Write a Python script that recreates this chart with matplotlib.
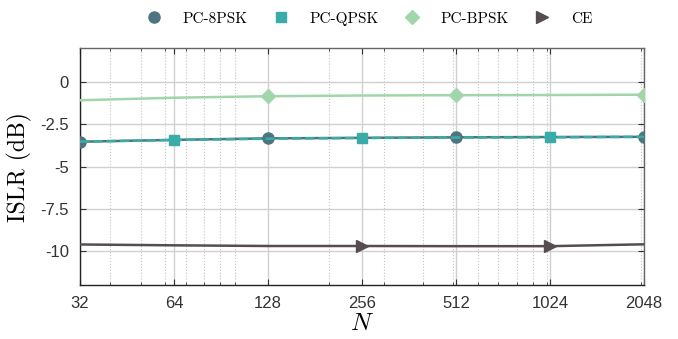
import matplotlib
matplotlib.use('Agg')
import matplotlib.pyplot as plt
import matplotlib.ticker as mticker
import numpy as np

plt.rcParams['mathtext.fontset'] = 'cm'

# data
N = [32, 64, 128, 256, 512, 1024, 2048]
islr_8psk = [-3.53, -3.42, -3.33, -3.30, -3.27, -3.25, -3.24]
islr_qpsk = [-3.52, -3.43, -3.35, -3.31, -3.28, -3.27, -3.24]
islr_bpsk = [-1.08, -0.93, -0.84, -0.80, -0.78, -0.77, -0.75]
islr_ce = [-9.60, -9.65, -9.69, -9.69, -9.70, -9.70, -9.59]

yticks = [0, -2.5, -5, -7.5, -10]
ytick_labels = ['0', '-2.5', '-5', '-7.5', '-10']
xtick_labels = ['32', '64', '128', '256', '512', '1024', '2048']

fig = plt.figure(figsize=(6.78, 3.39), dpi=100)
ax = fig.add_axes([0.118, 0.159, 0.832, 0.699])

ax.plot(N, islr_8psk, '-', color='#4d7580', lw=1.8, marker='o', ms=8,
        markevery=[0, 2, 4, 6], label='PC-8PSK', zorder=3)
ax.plot(N, islr_qpsk, '--', color='#3aaca8', lw=1.8, marker='s', ms=7,
        markevery=[1, 3, 5], label='PC-QPSK', zorder=4)
ax.plot(N, islr_bpsk, '-', color='#a1d6ab', lw=1.8, marker='D', ms=7,
        markevery=[2, 4, 6], label='PC-BPSK', zorder=3)
ax.plot(N, islr_ce, '-', color='#574d51', lw=1.8, marker='>', ms=8,
        markevery=[3, 5], label='CE', zorder=3)

ax.set_xscale('log')
ax.set_xlim(32, 2048)
ax.set_ylim(-12, 2)
ax.xaxis.set_major_locator(mticker.FixedLocator(N))
ax.xaxis.set_major_formatter(mticker.FixedFormatter(xtick_labels))
ax.xaxis.set_minor_locator(mticker.LogLocator(base=10, subs=np.arange(1, 10)))
ax.xaxis.set_minor_formatter(mticker.NullFormatter())
ax.set_yticks(yticks)
ax.set_yticklabels(ytick_labels)

for lab in ax.get_xticklabels() + ax.get_yticklabels():
    lab.set_family('Liberation Sans')
    lab.set_fontsize(12)
    lab.set_color('#222222')

ax.tick_params(which='both', direction='in', top=True, right=True, colors='#333333')
ax.tick_params(which='major', length=4, width=0.8, pad=8)
ax.tick_params(which='minor', length=2.5, width=0.6)

ax.grid(which='major', color='#d0d0d0', lw=1.0, ls='-')
ax.grid(which='minor', axis='x', color='#c4c4c4', lw=0.8, ls=':')
ax.set_axisbelow(True)

for side in ['left', 'bottom']:
    ax.spines[side].set_color('#222222')
    ax.spines[side].set_linewidth(1.0)
for side in ['top', 'right']:
    ax.spines[side].set_color('#666666')
    ax.spines[side].set_linewidth(1.0)

ax.set_ylabel('ISLR (dB)', family='cmr10', fontsize=17, labelpad=6)
ax.set_xlabel(r'$N$', fontsize=18, labelpad=0)

handles, labels = ax.get_legend_handles_labels()
leg_handles = []
for h in handles:
    leg_handles.append(plt.Line2D([], [], ls='none', marker=h.get_marker(),
                                  ms=h.get_markersize(), color=h.get_color()))
fig.legend(leg_handles, labels, loc='center', bbox_to_anchor=(0.542, 0.945),
           ncol=4, frameon=False, prop={'family': 'cmr10', 'size': 11},
           handletextpad=1.1, columnspacing=1.45, handlelength=1.5)

fig.savefig('out.png', dpi=100)
